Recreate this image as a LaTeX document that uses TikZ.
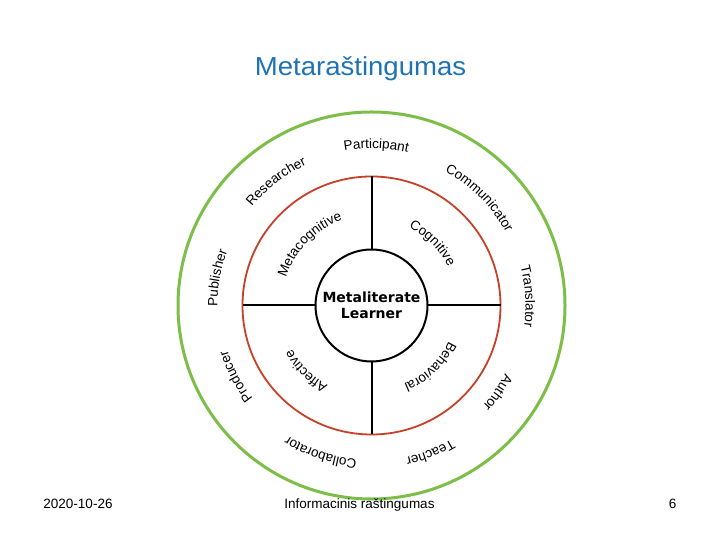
\documentclass[tikz,border=0pt]{standalone}
\usepackage{fontspec}
\setmainfont{Liberation Sans}
\newfontfamily\ctrfont{DejaVu Sans}
\usetikzlibrary{calc,decorations.text}
\definecolor{ringgreen}{RGB}{124,190,72}
\definecolor{ringred}{RGB}{198,64,42}
\definecolor{titleblue}{RGB}{30,115,180}
\newcommand\lblfont{\fontsize{13.5bp}{16bp}\selectfont}
\newcommand\arclabel[3]{%
  \path[decorate,decoration={text along path,text align=center,text={|\lblfont|#3}}]
    ($(C)+({#1+45}:#2)$) arc[start angle={#1+45}, end angle={#1-45}, radius=#2];}
\begin{document}
\begin{tikzpicture}[x=1bp,y=1bp,
  ring/.style={circle,inner sep=0pt,outer sep=0pt},
  spoke/.style={draw=black,line width=2bp},
  foot/.style={font=\fontsize{13.5bp}{16bp}\selectfont,anchor=base,inner sep=0pt}]
\useasboundingbox[fill=white] (0,0) rectangle (720,540);
\coordinate (C) at (371.5,234.5);
% title
\node[anchor=base,inner sep=0pt,text=titleblue,xscale=1.06,font=\fontsize{26bp}{30bp}\selectfont] (title) at (360.5,464) {Metaraštingumas};
% rings
\node[ring,draw=ringgreen,line width=3bp,minimum size=387bp] (G) at (C) {};
\node[ring,draw=ringred,line width=1.8bp,minimum size=258bp] (R) at (C) {};
\node[ring,draw=black,line width=2bp,fill=white,minimum size=112bp,align=center,
  font=\ctrfont\bfseries\fontsize{14bp}{16bp}\selectfont] (L) at (C) {Metaliterate\\Learner};
% spokes
\draw[spoke] (L.north) -- (R.north);
\draw[spoke] (L.south) -- (R.south);
\draw[spoke] (L.west) -- (R.west);
\draw[spoke] (L.east) -- (R.east);
% outer labels
\arclabel{88.3}{157}{Participant}
\arclabel{127.6}{155}{Researcher}
\arclabel{44.9}{153}{Communicator}
\arclabel{3.4}{154}{Translator}
\arclabel{169.9}{154}{Publisher}
\arclabel{207.8}{151}{Producer}
\arclabel{251}{155}{Collaborator}
\arclabel{291.8}{156}{Teacher}
\arclabel{325.4}{150}{Author}
% inner labels
\arclabel{135.4}{90}{Metacognitive}
\arclabel{45.6}{86}{Cognitive}
\arclabel{313.8}{85}{Behavioral}
\arclabel{225.1}{91}{Affective}
% footer
\node[foot] (date) at (78,31.5) {2020-10-26};
\node[foot] (course) at (359.5,31.5) {Informacinis raštingumas};
\node[foot] (page) at (672.5,31.5) {6};
\end{tikzpicture}
\end{document}
